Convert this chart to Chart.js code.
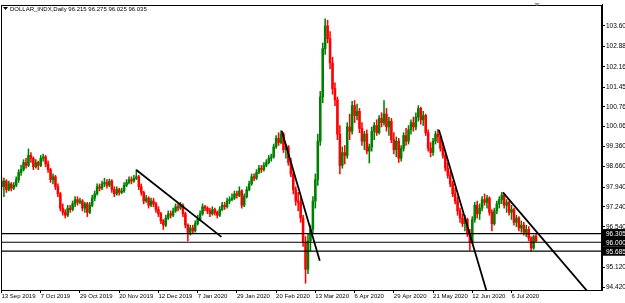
<!DOCTYPE html>
<html>
<head>
<meta charset="utf-8">
<script src="https://cdn.jsdelivr.net/npm/chart.js@4.4.1/dist/chart.umd.min.js"></script>
<style>
  html, body { margin: 0; padding: 0; background: #fff; }
  canvas { display: block; }
</style>
</head>
<body>
<canvas id="grafico" width="625" height="303"></canvas>
<script>
// ---------- Dados (barras diárias, índice 0 = 13 Sep 2019) ----------
const opens = [
  98.15, 97.95, 98.15, 97.85, 98.05, 97.90, 98.00, 98.20, 98.45, 98.55,
  98.80, 98.70, 99.05, 98.95, 98.65, 98.80, 98.70, 98.95, 99.00, 98.75,
  98.55, 98.20, 98.30, 97.95, 97.70, 97.20, 97.05, 96.95, 97.20, 97.15,
  97.35, 97.50, 97.40, 97.45, 97.20, 97.35, 97.05, 97.30, 97.55, 97.70,
  97.95, 97.90, 98.05, 98.10, 98.00, 98.15, 97.85, 97.70, 97.85, 97.75,
  97.80, 98.00, 98.10, 98.20, 98.15, 98.25, 98.30, 97.95, 97.75, 97.45,
  97.55, 97.30, 97.45, 97.35, 97.15, 97.00, 96.75, 96.60, 96.85, 97.00,
  96.95, 97.10, 97.25, 97.20, 97.30, 97.00, 96.60, 96.35, 96.50, 96.40,
  96.65, 96.80, 97.00, 97.25, 97.20, 97.10, 97.00, 97.15, 97.05, 96.95,
  97.15, 97.30, 97.25, 97.45, 97.50, 97.55, 97.70, 97.65, 97.80, 97.30,
  97.60, 97.85, 98.05, 98.30, 98.25, 98.45, 98.60, 98.55, 98.70, 98.80,
  98.95, 99.00, 99.35, 99.65, 99.50, 99.80, 99.25, 99.35, 98.80, 98.40,
  97.85, 97.45, 97.40, 96.85, 96.00, 95.05, 96.05, 96.45, 97.45, 98.20,
  99.55, 101.10, 102.80, 103.60, 103.15, 102.30, 101.40, 101.00, 99.80, 98.70,
  99.15, 99.05, 100.05, 99.90, 100.80, 100.45, 100.60, 100.00, 99.55, 99.80,
  99.20, 99.35, 99.90, 100.10, 99.85, 100.35, 100.20, 100.50, 100.05, 100.25,
  99.60, 99.25, 99.55, 98.95, 99.30, 99.75, 99.55, 99.95, 100.20, 100.05,
  100.40, 100.70, 100.30, 100.45, 99.85, 99.30, 99.15, 99.55, 99.80, 99.70,
  99.30, 99.05, 98.60, 98.35, 98.05, 97.70, 97.45, 97.10, 96.85, 96.65,
  96.80, 96.30, 96.00, 96.80, 97.30, 97.00, 97.20, 97.50, 97.40, 97.55,
  97.05, 96.65, 97.10, 97.35, 97.50, 97.65, 97.30, 97.40, 97.05, 97.15,
  96.70, 96.85, 96.50, 96.60, 96.35, 96.45, 96.15, 95.80, 96.215
];
const highs = [
  98.30, 98.25, 98.20, 98.15, 98.10, 98.10, 98.30, 98.55, 98.70, 98.90,
  98.95, 99.28, 99.15, 99.00, 98.90, 98.85, 99.05, 99.10, 99.05, 98.85,
  98.60, 98.40, 98.35, 98.05, 97.75, 97.35, 97.15, 97.30, 97.30, 97.45,
  97.60, 97.60, 97.55, 97.50, 97.40, 97.40, 97.40, 97.65, 97.80, 98.05,
  98.05, 98.15, 98.25, 98.20, 98.22, 98.20, 97.95, 97.95, 97.90, 97.90,
  98.10, 98.20, 98.30, 98.30, 98.35, 98.55, 98.35, 98.05, 97.80, 97.65,
  97.60, 97.55, 97.55, 97.40, 97.25, 97.05, 96.80, 96.95, 97.10, 97.10,
  97.20, 97.35, 97.35, 97.40, 97.35, 97.05, 96.65, 96.60, 96.60, 96.75,
  96.95, 97.10, 97.35, 97.30, 97.25, 97.20, 97.25, 97.20, 97.10, 97.25,
  97.40, 97.40, 97.55, 97.60, 97.70, 97.80, 97.80, 97.95, 97.85, 97.70,
  97.95, 98.15, 98.40, 98.40, 98.55, 98.70, 98.70, 98.80, 98.90, 99.05,
  99.10, 99.45, 99.75, 99.85, 99.92, 99.85, 99.45, 99.40, 98.95, 98.50,
  97.95, 97.75, 97.55, 96.95, 96.20, 96.30, 96.60, 97.60, 98.40, 99.80,
  101.30, 103.00, 103.85, 103.80, 103.40, 102.50, 101.60, 101.10, 100.10, 99.35,
  99.40, 100.20, 100.50, 100.95, 100.98, 100.85, 100.70, 100.20, 99.90, 99.95,
  99.45, 100.05, 100.20, 100.30, 100.45, 100.55, 100.98, 100.70, 100.40, 100.35,
  99.85, 99.70, 99.65, 99.40, 99.85, 100.00, 100.10, 100.30, 100.40, 100.55,
  100.80, 100.75, 100.60, 100.50, 99.95, 99.50, 99.65, 99.90, 99.97, 99.75,
  99.50, 99.15, 98.80, 98.50, 98.15, 97.90, 97.60, 97.20, 97.00, 96.95,
  96.85, 96.45, 96.90, 97.40, 97.45, 97.35, 97.60, 97.70, 97.65, 97.60,
  97.15, 97.20, 97.45, 97.60, 97.75, 97.70, 97.50, 97.45, 97.30, 97.20,
  96.95, 96.90, 96.75, 96.70, 96.60, 96.55, 96.20, 96.25, 96.275
];
const lows = [
  97.85, 97.60, 97.75, 97.80, 97.80, 97.85, 97.95, 98.10, 98.35, 98.50,
  98.60, 98.65, 98.80, 98.55, 98.60, 98.55, 98.65, 98.85, 98.65, 98.45,
  98.10, 98.05, 97.85, 97.60, 97.10, 96.95, 96.85, 96.90, 97.05, 97.10,
  97.25, 97.30, 97.35, 97.10, 97.05, 96.90, 97.00, 97.25, 97.45, 97.65,
  97.80, 97.85, 97.95, 97.90, 97.95, 97.75, 97.60, 97.65, 97.65, 97.70,
  97.75, 97.95, 98.05, 98.05, 98.10, 98.20, 97.85, 97.65, 97.35, 97.40,
  97.20, 97.25, 97.25, 97.05, 96.90, 96.65, 96.45, 96.55, 96.80, 96.85,
  96.90, 97.05, 97.10, 97.15, 96.90, 96.50, 96.05, 96.25, 96.30, 96.35,
  96.60, 96.75, 96.95, 97.10, 97.00, 96.90, 96.95, 96.95, 96.85, 96.90,
  97.10, 97.15, 97.20, 97.35, 97.45, 97.50, 97.55, 97.60, 97.20, 97.25,
  97.55, 97.80, 98.00, 98.15, 98.20, 98.40, 98.45, 98.50, 98.65, 98.75,
  98.85, 98.95, 99.30, 99.40, 99.45, 99.15, 98.95, 98.70, 98.30, 97.70,
  97.30, 97.10, 96.70, 95.85, 94.56, 94.90, 95.70, 96.30, 97.20, 98.00,
  99.40, 100.90, 102.60, 103.00, 102.10, 101.20, 100.80, 99.60, 98.40, 98.60,
  98.75, 98.95, 99.60, 99.80, 100.20, 100.30, 99.85, 99.40, 99.25, 99.10,
  98.78, 99.20, 99.60, 99.75, 99.80, 100.05, 100.10, 99.90, 99.75, 99.50,
  99.10, 99.00, 98.80, 98.85, 99.20, 99.40, 99.45, 99.80, 99.90, 99.95,
  100.25, 100.15, 100.10, 99.75, 99.20, 99.00, 99.05, 99.45, 99.50, 99.20,
  98.95, 98.50, 98.25, 97.95, 97.60, 97.35, 96.95, 96.70, 96.55, 96.40,
  96.20, 95.72, 95.95, 96.70, 96.85, 96.80, 97.10, 97.30, 97.20, 96.95,
  96.40, 96.60, 97.00, 97.20, 97.35, 97.20, 97.05, 96.95, 96.80, 96.60,
  96.55, 96.40, 96.35, 96.25, 96.20, 96.05, 95.70, 95.75, 96.025
];
const closes = [
  97.95, 98.15, 97.85, 98.05, 97.90, 98.00, 98.20, 98.45, 98.55, 98.80,
  98.70, 99.05, 98.95, 98.65, 98.80, 98.70, 98.95, 99.00, 98.75, 98.55,
  98.20, 98.30, 97.95, 97.70, 97.20, 97.05, 96.95, 97.20, 97.15, 97.35,
  97.50, 97.40, 97.45, 97.20, 97.35, 97.05, 97.30, 97.55, 97.70, 97.95,
  97.90, 98.05, 98.10, 98.00, 98.15, 97.85, 97.70, 97.85, 97.75, 97.80,
  98.00, 98.10, 98.20, 98.15, 98.25, 98.30, 97.95, 97.75, 97.45, 97.55,
  97.30, 97.45, 97.35, 97.15, 97.00, 96.75, 96.60, 96.85, 97.00, 96.95,
  97.10, 97.25, 97.20, 97.30, 97.00, 96.60, 96.35, 96.50, 96.40, 96.65,
  96.80, 97.00, 97.25, 97.20, 97.10, 97.00, 97.15, 97.05, 96.95, 97.15,
  97.30, 97.25, 97.45, 97.50, 97.55, 97.70, 97.65, 97.80, 97.30, 97.60,
  97.85, 98.05, 98.30, 98.25, 98.45, 98.60, 98.55, 98.70, 98.80, 98.95,
  99.00, 99.35, 99.65, 99.50, 99.80, 99.25, 99.35, 98.80, 98.40, 97.85,
  97.45, 97.40, 96.85, 96.00, 95.05, 96.05, 96.45, 97.45, 98.20, 99.55,
  101.10, 102.80, 103.60, 103.15, 102.30, 101.40, 101.00, 99.80, 98.70, 99.15,
  99.05, 100.05, 99.90, 100.80, 100.45, 100.60, 100.00, 99.55, 99.80, 99.20,
  99.35, 99.90, 100.10, 99.85, 100.35, 100.20, 100.50, 100.05, 100.25, 99.60,
  99.25, 99.55, 98.95, 99.30, 99.75, 99.55, 99.95, 100.20, 100.05, 100.40,
  100.70, 100.30, 100.45, 99.85, 99.30, 99.15, 99.55, 99.80, 99.70, 99.30,
  99.05, 98.60, 98.35, 98.05, 97.70, 97.45, 97.10, 96.85, 96.65, 96.80,
  96.30, 96.00, 96.80, 97.30, 97.00, 97.20, 97.50, 97.40, 97.55, 97.05,
  96.65, 97.10, 97.35, 97.50, 97.65, 97.30, 97.40, 97.05, 97.15, 96.70,
  96.85, 96.50, 96.60, 96.35, 96.45, 96.15, 95.80, 96.20, 96.035
];

// rótulos do eixo X (um a cada 16 barras)
const tickIdx = [0, 16, 32, 48, 64, 80, 96, 112, 128, 144, 160, 176, 192, 208];
const tickNames = ['13 Sep 2019', '7 Oct 2019', '29 Oct 2019', '20 Nov 2019', '12 Dec 2019',
  '7 Jan 2020', '29 Jan 2020', '20 Feb 2020', '13 Mar 2020', '6 Apr 2020',
  '29 Apr 2020', '21 May 2020', '12 Jun 2020', '6 Jul 2020'];

// preços do eixo Y (o MT4 esconde o 95.830 atrás das etiquetas)
const yTicks = [103.600, 102.880, 102.160, 101.450, 100.760, 100.060, 99.360,
  98.660, 97.940, 97.240, 96.540, 95.120, 94.420];

// linhas horizontais e linhas de tendência (índice da barra, preço)
const levels = [96.305, 96.000, 95.685];
const trendLines = [
  [[55, 98.54], [89.7, 96.19]],
  [[114.3, 99.91], [129.8, 95.35]],
  [[178.4, 99.94], [200, 93.65]],
  [[204.5, 97.75], [240, 94.17]]
];

const symbolName = 'DOLLAR_INDX,Daily';

// ---------- Configuração do Gráfico ----------
const FONT = 'Liberation Sans';
const X_MIN = -0.2, X_MAX = 244.9;
const Y_MIN = 94.323, Y_MAX = 104.337;
const GREEN = 'rgb(0,128,0)';
const RED = 'rgb(255,0,0)';

const idx = opens.map((_, i) => i);
const corCandle = (ctx) => closes[ctx.dataIndex] >= opens[ctx.dataIndex] ? GREEN : RED;

const datasets = [];

trendLines.forEach(function (t) {
  datasets.push({
    type: 'line',
    data: t.map(p => ({ x: p[0], y: p[1] })),
    borderColor: '#000',
    borderWidth: 1.8,
    pointRadius: 0,
    clip: 0,
    order: 0
  });
});

levels.forEach(function (lv) {
  datasets.push({
    type: 'line',
    data: [{ x: X_MIN, y: lv }, { x: X_MAX, y: lv }],
    borderColor: '#000',
    borderWidth: 1.2,
    pointRadius: 0,
    clip: 0,
    order: 0
  });
});

// corpo do candle
datasets.push({
  type: 'bar',
  data: idx.map(i => ({ x: i, y: [opens[i], closes[i]] })),
  backgroundColor: corCandle,
  barThickness: 1.9,
  minBarLength: 1,
  grouped: false,
  borderSkipped: false,
  order: 1
});

// pavio
datasets.push({
  type: 'bar',
  data: idx.map(i => ({ x: i, y: [lows[i], highs[i]] })),
  backgroundColor: corCandle,
  barThickness: 0.9,
  grouped: false,
  borderSkipped: false,
  order: 2
});

// moldura, etiquetas das linhas e título
const extras = {
  id: 'extras',
  afterDraw(chart) {
    const c = chart.ctx;
    const a = chart.chartArea;
    const ys = chart.scales.y;
    c.save();
    c.strokeStyle = '#000';
    c.lineWidth = 1;
    c.strokeRect(Math.round(a.left) + 0.5, Math.round(a.top) + 0.5,
      Math.round(a.right - a.left) - 1, Math.round(a.bottom - a.top));

    c.font = '6.5px "' + FONT + '"';
    c.textBaseline = 'middle';
    levels.forEach(function (lv) {
      const y = ys.getPixelForValue(lv);
      c.fillStyle = '#000';
      c.fillRect(a.right + 1, y - 4.5, 24, 9);
      c.fillStyle = '#fff';
      c.fillText(lv.toFixed(3), a.right + 4, y + 0.5);
    });

    // título do gráfico
    const last = opens.length - 1;
    const ohlc = [opens[last], highs[last], lows[last], closes[last]].map(v => v.toFixed(3)).join(' ');
    c.fillStyle = '#000';
    c.beginPath();
    c.moveTo(3, 7); c.lineTo(8, 7); c.lineTo(5.5, 10);
    c.closePath();
    c.fill();
    c.font = '6px "' + FONT + '"';
    c.fillText(symbolName + ' ' + ohlc, 10, 9);

    // marcador de deslocamento do gráfico
    c.fillStyle = '#a0a0a0';
    c.beginPath();
    c.moveTo(534, 3); c.lineTo(540, 3); c.lineTo(537, 6);
    c.closePath();
    c.fill();
    c.restore();
  }
};

new Chart(document.getElementById('grafico').getContext('2d'), {
  type: 'bar',
  data: { datasets: datasets },
  options: {
    responsive: false,
    animation: false,
    devicePixelRatio: 1,
    layout: { padding: { left: 1, top: 2, right: 0, bottom: 0 } },
    plugins: { legend: { display: false }, tooltip: { enabled: false } },
    scales: {
      x: {
        type: 'linear',
        position: 'bottom',
        min: X_MIN,
        max: X_MAX,
        offset: false,
        grid: { drawOnChartArea: false, offset: false, tickLength: 3, color: '#000' },
        border: { display: true, color: '#000' },
        ticks: {
          autoSkip: false,
          maxRotation: 0,
          align: 'start',
          padding: 0,
          color: '#000',
          font: { family: FONT, size: 6 },
          callback: (v) => tickNames[tickIdx.indexOf(v)]
        },
        afterBuildTicks: (s) => { s.ticks = tickIdx.map(v => ({ value: v })); },
        afterFit: (s) => { s.height = 13; }
      },
      y: {
        type: 'linear',
        position: 'right',
        min: Y_MIN,
        max: Y_MAX,
        grid: { drawOnChartArea: false, tickLength: 3, color: '#000' },
        border: { display: true, color: '#000' },
        ticks: {
          autoSkip: false,
          padding: 1,
          color: '#000',
          font: { family: FONT, size: 6.5 },
          callback: (v) => v.toFixed(3)
        },
        afterBuildTicks: (s) => { s.ticks = yTicks.map(v => ({ value: v })); },
        afterFit: (s) => { s.width = 23; }
      }
    }
  },
  plugins: [extras]
});
</script>
</body>
</html>
